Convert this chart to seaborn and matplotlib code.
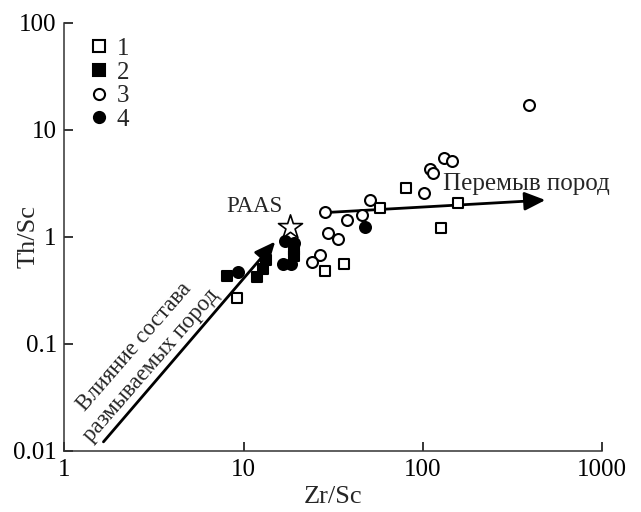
import matplotlib
matplotlib.use("Agg")
import numpy as np
import pandas as pd
import matplotlib.pyplot as plt
import seaborn as sns
from matplotlib.lines import Line2D

# group 1 - open squares
zr_sc_1 = [9.2, 28.5, 36.1, 57.9, 80.9, 126, 157]
th_sc_1 = [0.266, 0.48, 0.56, 1.87, 2.83, 1.20, 2.05]
# group 2 - filled squares
zr_sc_2 = [8.06, 11.8, 12.8, 13.3, 19.0, 19.2]
th_sc_2 = [0.43, 0.42, 0.50, 0.60, 0.66, 0.75]
# group 3 - open circles
zr_sc_3 = [28.3, 37.7, 45.8, 50.9, 29.4, 33.6, 26.8, 24.0, 390, 130.7, 145.6, 109, 114, 102]
th_sc_3 = [1.71, 1.43, 1.60, 2.20, 1.09, 0.95, 0.675, 0.58, 17.0, 5.4, 5.13, 4.27, 3.91, 2.55]
# group 4 - filled circles
zr_sc_4 = [9.27, 16.5, 18.3, 17.1, 19.0, 47.3]
th_sc_4 = [0.47, 0.55, 0.55, 0.92, 0.88, 1.22]

paas = (18.2, 1.24)
# arrows (start, end)
arrow_source = ((1.65, 0.0121), (15.0, 0.90))
arrow_rework = ((28.5, 1.68), (483, 2.2))

x_ticks = [1, 10, 100, 1000]
x_labels = ["1", "10", "100", "1000"]
y_ticks = [0.01, 0.1, 1, 10, 100]
y_labels = ["0.01", "0.1", "1", "10", "100"]

df = pd.concat([
    pd.DataFrame({"zr": zr_sc_1, "th": th_sc_1, "group": "1"}),
    pd.DataFrame({"zr": zr_sc_2, "th": th_sc_2, "group": "2"}),
    pd.DataFrame({"zr": zr_sc_3, "th": th_sc_3, "group": "3"}),
    pd.DataFrame({"zr": zr_sc_4, "th": th_sc_4, "group": "4"}),
])

sns.set_theme(style="ticks")
plt.rcParams["font.family"] = ["Liberation Serif", "DejaVu Serif"]

fig = plt.figure(figsize=(6.41, 5.12), dpi=100)
ax = fig.add_axes([0.1006, 0.1197, 0.8386, 0.836])

styles = {"1": ("s", "white"), "2": ("s", "black"), "3": ("o", "white"), "4": ("o", "black")}
for g, (m, fc) in styles.items():
    sns.scatterplot(data=df[df.group == g], x="zr", y="th", marker=m, color=fc,
                    edgecolor="black", linewidth=1.5, s=62, zorder=4, ax=ax, legend=False)

ax.scatter([paas[0]], [paas[1]], marker="*", s=330, facecolor="white",
           edgecolor="black", linewidth=1.2, zorder=5)

for (x0, y0), (x1, y1) in (arrow_source, arrow_rework):
    ax.annotate("", xy=(x1, y1), xytext=(x0, y0),
                arrowprops=dict(arrowstyle="-|>,head_length=0.9,head_width=0.4",
                                mutation_scale=14, lw=2, color="black",
                                shrinkA=0, shrinkB=0), zorder=3)

ax.text(11.45, 1.9, "PAAS", fontsize=16.5, ha="center", va="center")
ax.text(130, 3.11, "Перемыв пород", fontsize=18, ha="left", va="center")
ax.text(2.44, 0.0937, "Влияние состава", fontsize=16.5, rotation=49,
        rotation_mode="anchor", ha="center", va="center")
ax.text(3.04, 0.0632, "размываемых пород", fontsize=16.5, rotation=49,
        rotation_mode="anchor", ha="center", va="center")

ax.set_xscale("log")
ax.set_yscale("log")
ax.set_xlim(1, 1000)
ax.set_ylim(0.01, 100)
ax.set_xticks(x_ticks, x_labels)
ax.set_yticks(y_ticks, y_labels)
ax.minorticks_off()
ax.tick_params(direction="in", length=6.5, width=1.1, labelsize=18, pad=6, colors="black")
ax.tick_params(axis="y", pad=5.5)
for side in ["left", "bottom"]:
    ax.spines[side].set_linewidth(1.1)
    ax.spines[side].set_color("#333333")
sns.despine(ax=ax)

ax.set_xlabel("Zr/Sc", fontsize=19)
ax.set_ylabel("Th/Sc", fontsize=19)
ax.xaxis.set_label_coords(0.5, -0.083)
ax.yaxis.set_label_coords(-0.047, 0.5)

handles = [Line2D([], [], ls="", marker=styles[g][0], mfc=styles[g][1], mec="black",
                  mew=1.5, ms=8) for g in ["1", "2", "3", "4"]]
ax.legend(handles, ["1", "2", "3", "4"], loc="upper left", bbox_to_anchor=(0.041, 0.965),
          frameon=False, fontsize=18, handlelength=1, handletextpad=0.2,
          labelspacing=0.045, borderpad=0, borderaxespad=0)

fig.savefig("out.png", dpi=100)
